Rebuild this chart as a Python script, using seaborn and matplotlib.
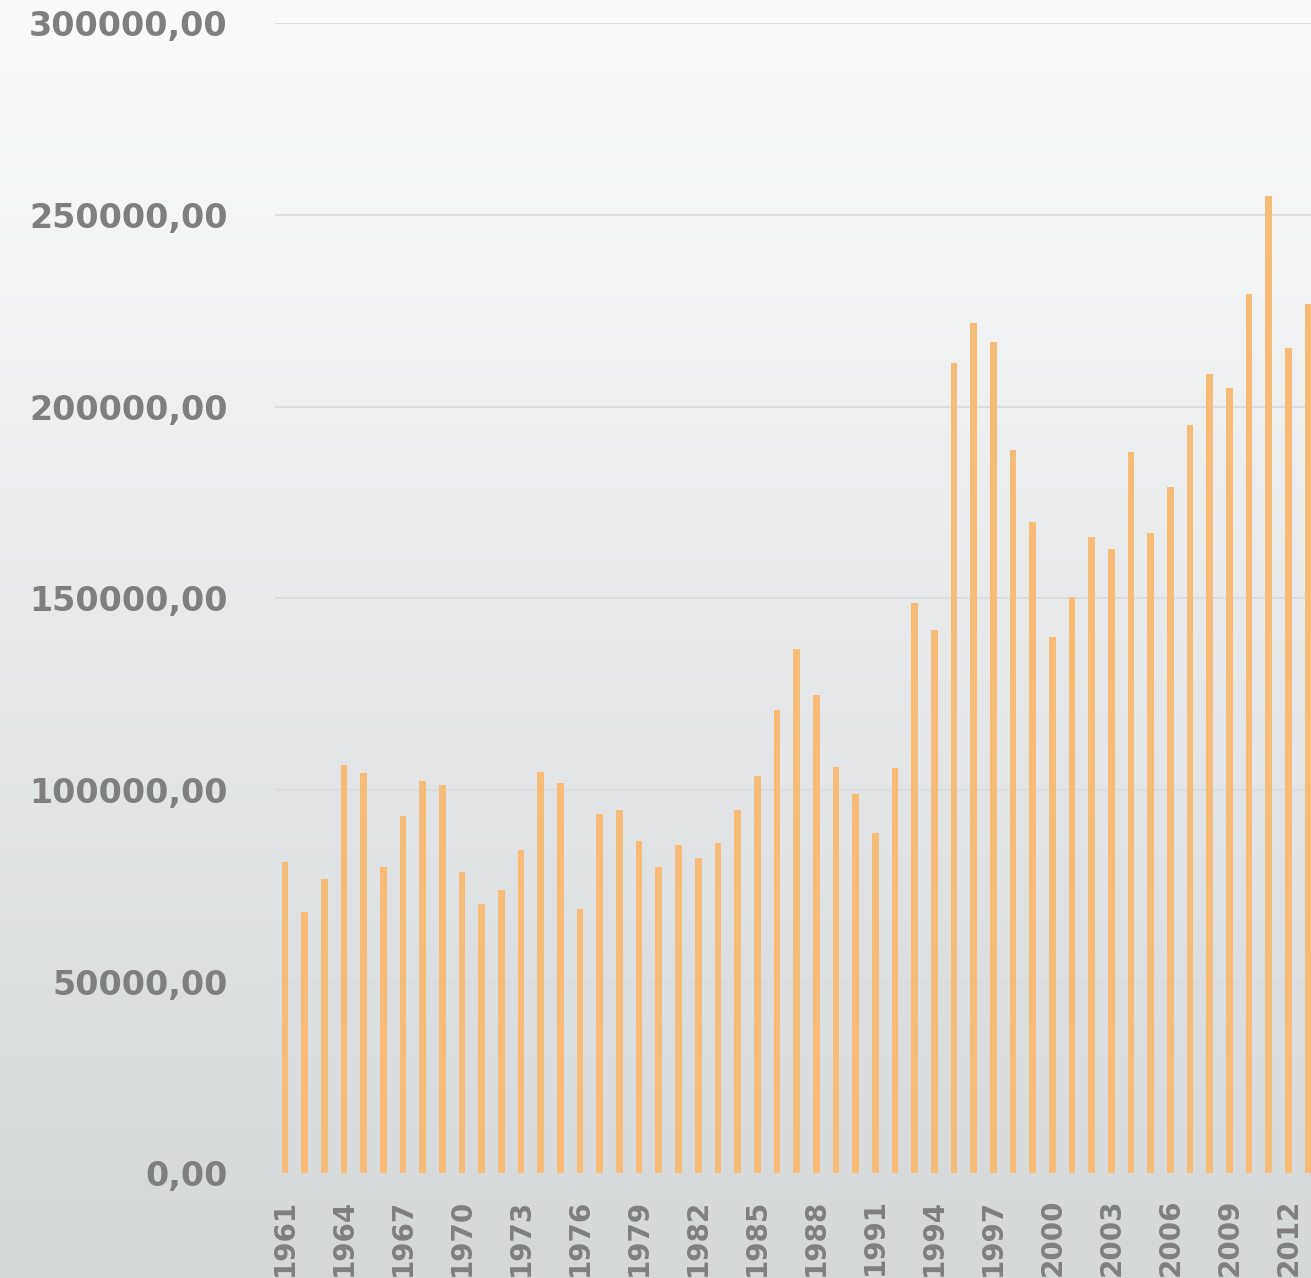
import numpy as np
import pandas as pd
import matplotlib
matplotlib.use("Agg")
import matplotlib.pyplot as plt
from matplotlib.ticker import FuncFormatter
import seaborn as sns

years = list(range(1961, 2014))
values = [81160, 68280, 76730, 106550, 104380, 79940, 93320, 102380, 101250, 78630,
          70370, 73860, 84290, 104810, 101850, 68900, 93840, 94810, 86640, 79940,
          85760, 82370, 86200, 94810, 103600, 120900, 136810, 124890, 106030, 98900,
          88890, 105850, 148810, 141850, 211430, 221870, 216910, 188810, 169950, 139870,
          150380, 165960, 162900, 188210, 167160, 179000, 195250, 208640, 204900, 229350,
          255000, 215420, 226820]
y_ticks = [0, 50000, 100000, 150000, 200000, 250000, 300000]

df = pd.DataFrame({"year": [str(y) for y in years], "value": values})

sns.set_theme(style="white")
plt.rcParams['font.family'] = ['DejaVu Sans']

W, H = 1311, 1278
fig = plt.figure(figsize=(W / 100, H / 100), dpi=100)

# background gradient
bg = fig.add_axes([0, 0, 1, 1], zorder=-10)
top = np.array([251, 251, 251]) / 255
bot = np.array([212, 216, 217]) / 255
t = np.linspace(0, 1, 256)[:, None, None]
grad = top * (1 - t) + bot * t
grad = np.repeat(grad, 2, axis=1)
bg.imshow(grad, aspect="auto", extent=[0, 1, 0, 1])
bg.axis("off")

ax_left = 275 / W
ax_bottom = 1 - 1173.4 / H
ax_top = 1 - 23.3 / H
ax = fig.add_axes([ax_left, ax_bottom, 1 - ax_left, ax_top - ax_bottom])
ax.set_facecolor("none")

sns.barplot(data=df, x="year", y="value", color="#f7bb78", saturation=1,
            width=0.34, linewidth=0, ax=ax, zorder=3)

ax.set_ylim(0, 300000)
ax.set_xlim(-0.51, 52.15)
ax.set_yticks(y_ticks)
ax.yaxis.set_major_formatter(FuncFormatter(lambda v, p: f"{int(v)},00"))
ax.grid(axis="y", color="#dcdcdc", linewidth=1.5, zorder=0)
ax.set_axisbelow(True)
for s in ax.spines.values():
    s.set_visible(False)

tick_pos = list(range(0, len(years), 3))
ax.set_xticks(tick_pos)
ax.set_xticklabels([str(years[i]) for i in tick_pos], rotation=90, va="top")
ax.set_xlabel("")
ax.set_ylabel("")

ax.tick_params(axis="y", length=0, pad=34, labelsize=24, labelcolor="#7f7f7f")
ax.tick_params(axis="x", length=0, pad=18, labelsize=20, labelcolor="#7f7f7f")
for lab in ax.get_yticklabels() + ax.get_xticklabels():
    lab.set_fontweight("bold")

fig.savefig("out.png", dpi=100)
